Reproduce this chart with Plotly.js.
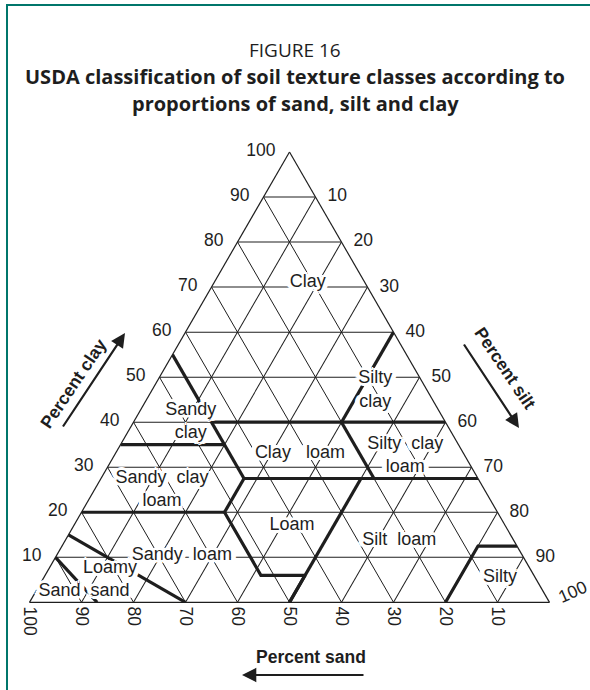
<!DOCTYPE html>
<html><head><meta charset="utf-8">
<script src="https://cdn.plot.ly/plotly-3.0.1.min.js"></script>
<style>
html,body{margin:0;padding:0;background:#fff;}
#wrap{position:relative;width:590px;height:690px;overflow:hidden;}
#chart{position:absolute;left:0;top:0;width:590px;height:690px;}
#frame{position:absolute;left:6px;top:4px;width:620px;height:720px;border-left:2.5px solid #00766b;border-top:2.5px solid #00766b;pointer-events:none;}
</style></head>
<body><div id="wrap"><div id="chart"></div><div id="frame"></div></div>
<script>
// ---- tick labels (percent) ----
const tickValues = [10, 20, 30, 40, 50, 60, 70, 80, 90, 100];
const tickLabels = ['10', '20', '30', '40', '50', '60', '70', '80', '90', '100'];

// ---- class boundary polylines (percent clay / silt / sand) ----
const boundaryClay = [
  [10, 0],                 // sand | loamy sand
  [15, 0],                 // loamy sand | sandy loam
  [20, 20],                // sandy loam | sandy clay loam
  [20, 6, 6, 0],           // sandy loam | loam
  [35, 35],                // sandy clay | sandy clay loam
  [55, 27.5],              // sandy clay, sandy clay loam | clay, clay loam
  [27.5, 20],              // sandy clay loam | loam
  [40, 40],                // clay | clay loam, silty clay
  [40, 60],                // clay | silty clay
  [40, 27.5],              // clay loam | silty clay loam
  [27.5, 27.5],            // clay loam, silty clay loam | loam, silt loam
  [27.5, 0],               // loam | silt loam
  [0, 12.5, 12.5]          // silt loam | silt
];
const boundarySilt = [
  [0, 13],
  [0, 30],
  [0, 27.5],
  [27.5, 41.5, 50, 50],
  [0, 20],
  [0, 27.5],
  [27.5, 27.5],
  [15, 60],
  [40, 40],
  [40, 52.5],
  [27.5, 72.5],
  [50, 50],
  [80, 80, 87.5]
];
const boundarySand = [
  [90, 87],
  [85, 70],
  [80, 52.5],
  [52.5, 52.5, 44, 50],
  [65, 45],
  [45, 45],
  [45, 52.5],
  [45, 0],
  [20, 0],
  [20, 20],
  [45, 0],
  [22.5, 50],
  [20, 7.5, 0]
];

// ---- texture class labels ----
const classNames = ['Clay', 'Silty<br>clay', 'Sandy<br>clay', 'Clay\u00a0\u00a0 loam', 'Silty\u00a0 clay<br>loam',
  'Sandy\u00a0 clay<br>loam', 'Loam', 'Silt\u00a0 loam', 'Sandy\u00a0 loam', 'Loamy<br>sand', 'Sand', 'Silty'];
const classClay = [71, 47, 40, 33, 32.5, 25, 17, 13.8, 10.4, 5, 2.5, 5.6];
const classSilt = [18, 43, 11, 35.5, 56, 13, 42, 64.2, 24.1, 13, 4.5, 87.7];
const classSand = [11, 10, 49, 31.5, 11.5, 62, 41, 22, 65.5, 82, 93, 6.7];

const W = 590, H = 690;
const SANS = '"Liberation Sans", Arial, sans-serif';
const INK = '#1e1e1e';

const traces = [];
for (let i = 0; i < boundaryClay.length; i++) {
  traces.push({
    type: 'scatterternary', mode: 'lines',
    a: boundaryClay[i], b: boundarySand[i], c: boundarySilt[i],
    line: {color: INK, width: 3.2},
    hoverinfo: 'skip', showlegend: false, cliponaxis: false
  });
}
let sh = [];
[[3,0],[-3,0],[0,3],[0,-3],[2,2],[-2,2],[2,-2],[-2,-2],[5,0],[-5,0],[4,2],[-4,2],[4,-2],[-4,-2]].forEach(o => sh.push(o[0]+'px '+o[1]+'px 0 #fff'));
traces.push({
  type: 'scatterternary', mode: 'text',
  a: classClay, b: classSand, c: classSilt,
  text: classNames, textposition: 'middle center',
  textfont: {family: SANS, size: 18, color: INK, shadow: sh.join(', ')},
  hoverinfo: 'skip', showlegend: false, cliponaxis: false
});

function axisCfg(extra) {
  return Object.assign({
    min: 0,
    tickmode: 'array', tickvals: tickValues, ticktext: tickLabels,
    ticks: 'outside', ticklen: 11, tickcolor: 'rgba(0,0,0,0)',
    tickfont: {family: SANS, size: 17.5, color: INK},
    showgrid: true, gridcolor: INK, gridwidth: 1,
    showline: true, linecolor: INK, linewidth: 1.2,
    layer: 'below traces', title: {text: ''}
  }, extra || {});
}

function px(x) { return x / W; }
function py(y) { return 1 - y / H; }

const triW = 520, triCx = 289.5, triTop = 152;
const triH = triW * Math.sqrt(3) / 2;
const cy = triTop + triH / 2;

// silt axis: the last label (100) is drawn tilted, as in the source figure
const siltTickText = tickLabels.map((t, i) => i === tickLabels.length - 1 ? '' : '\u00a0\u00a0' + t);

const annotations = [
  {text: 'FIGURE 16', x: 0.5, y: py(50), font: {family: 'Open Sans', size: 19, color: INK}},
  {text: '<b>USDA classification of soil texture classes according to</b>', x: 0.5, y: py(77), font: {family: 'Open Sans', size: 20, color: INK}},
  {text: '<b>proportions of sand, silt and clay</b>', x: 0.5, y: py(104), font: {family: 'Open Sans', size: 20, color: INK}},
  {text: '<b>Percent clay</b>', x: px(73), y: py(384), textangle: -56, font: {family: SANS, size: 17.5, color: INK}},
  {text: '<b>Percent silt</b>', x: px(505), y: py(368), textangle: 56, font: {family: SANS, size: 17.5, color: INK}},
  {text: '<b>Percent sand</b>', x: px(311), y: py(657), font: {family: SANS, size: 17.5, color: INK}},
  {text: tickLabels[tickLabels.length - 1], x: px(572), y: py(592), textangle: -24, font: {family: SANS, size: 17.5, color: INK}},
  {text: '', x: px(125), y: py(333), ax: -63, ay: 95, showarrow: true},
  {text: '', x: px(519), y: py(428), ax: -56, ay: -85, showarrow: true},
  {text: '', x: px(242), y: py(675), ax: 123, ay: 0, showarrow: true}
].map(a => Object.assign({xref: 'paper', yref: 'paper', xanchor: 'center', yanchor: 'middle', showarrow: false,
  arrowhead: 2, arrowsize: 1.3, arrowwidth: 2.2, arrowcolor: INK, standoff: 0}, a));

const layout = {
  width: W, height: H,
  margin: {l: 0, r: 0, t: 0, b: 0},
  paper_bgcolor: '#fff',
  showlegend: false,
  ternary: {
    sum: 100,
    bgcolor: 'rgba(0,0,0,0)',
    domain: {x: [px(triCx - triW / 2), px(triCx + triW / 2)], y: [py(cy) - 0.335, py(cy) + 0.335]},
    aaxis: axisCfg(),
    baxis: axisCfg({tickangle: 90, ticks: '', ticklen: 0}),
    caxis: axisCfg({ticks: '', ticklen: 0, ticktext: siltTickText})
  },
  annotations: annotations
};

Plotly.newPlot('chart', traces, layout, {displayModeBar: false, staticPlot: true});
</script>
</body></html>
